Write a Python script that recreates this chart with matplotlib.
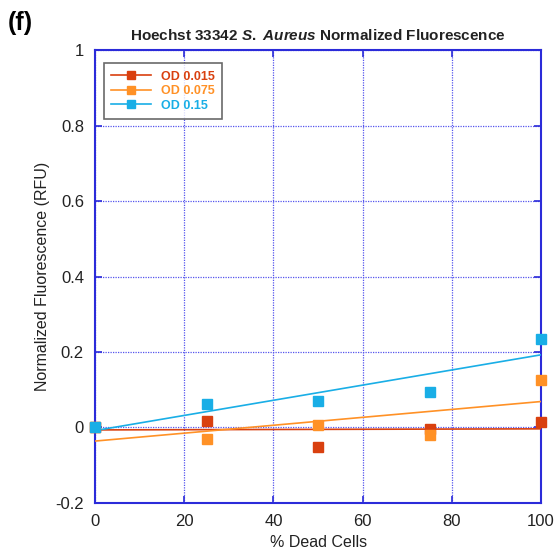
import numpy as np
import matplotlib.pyplot as plt

plt.rcParams['font.family'] = ['Liberation Sans', 'DejaVu Sans']
plt.rcParams['mathtext.fontset'] = 'custom'
plt.rcParams['mathtext.it'] = 'Liberation Sans:italic:bold'
plt.rcParams['mathtext.rm'] = 'Liberation Sans:bold'

# 資料
dead_pct = [0, 25, 50, 75, 100]
series_names = ['OD 0.015', 'OD 0.075', 'OD 0.15']
od_0015 = [0.0, 0.017, -0.052, -0.004, 0.014]
od_0075 = [0.0, -0.030, 0.006, -0.020, 0.126]
od_015 = [0.0, 0.062, 0.070, 0.094, 0.235]
colors = ['#d9400f', '#ff9126', '#19aee6']

fig = plt.figure(figsize=(5.59, 5.50), dpi=100)
ax = fig.add_axes([0.170, 0.0855, 0.798, 0.8235])

axis_blue = '#2b2bd9'
for name, ys, c in zip(series_names, [od_0015, od_0075, od_015], colors):
    x = np.array(dead_pct, dtype=float)
    y = np.array(ys)
    # 線性擬合
    k, b = np.polyfit(x, y, 1)
    xf = np.array([0, 100])
    ax.plot(xf, k * xf + b, color=c, lw=1.2, zorder=3)
    ax.plot(x, y, 's', color=c, ms=6.5, clip_on=False, zorder=4)
    # 圖例用
    ax.plot([], [], '-s', color=c, lw=1.2, ms=6, label=name)

ax.set_xlim(0, 100)
ax.set_ylim(-0.2, 1)
ax.set_xticks([0, 20, 40, 60, 80, 100])
ax.set_yticks([-0.2, 0, 0.2, 0.4, 0.6, 0.8, 1])
ax.set_yticklabels(['-0.2', '0', '0.2', '0.4', '0.6', '0.8', '1'])
ax.grid(True, color='#5555ee', ls=(0, (1, 1)), lw=0.9)
for s in ax.spines.values():
    s.set_color(axis_blue)
    s.set_linewidth(1.5)
ax.tick_params(direction='in', length=5, color=axis_blue, width=1.2,
               top=True, right=True, labelsize=12, pad=8, labelcolor='#222222')

ax.set_xlabel('% Dead Cells', fontsize=11.5, color='#222222')
ax.set_ylabel('Normalized Fluorescence (RFU)', fontsize=11.5, color='#222222')
ax.set_title(r'Hoechst 33342 $S.\ Aureus$ Normalized Fluorescence',
             fontsize=11, fontweight='bold', pad=7, color='#222222')
fig.text(0.014, 0.945, '(f)', fontsize=18, fontweight='bold')

leg = ax.legend(loc='upper left', bbox_to_anchor=(0.005, 0.985),
                prop={'size': 9, 'weight': 'bold'},
                frameon=True, fancybox=False, edgecolor='#444444',
                handlelength=3.2, borderpad=0.6, labelspacing=0.2)
leg.get_frame().set_linewidth(1.2)
for t, c in zip(leg.get_texts(), colors):
    t.set_color(c)

fig.savefig('out.png', dpi=100)
